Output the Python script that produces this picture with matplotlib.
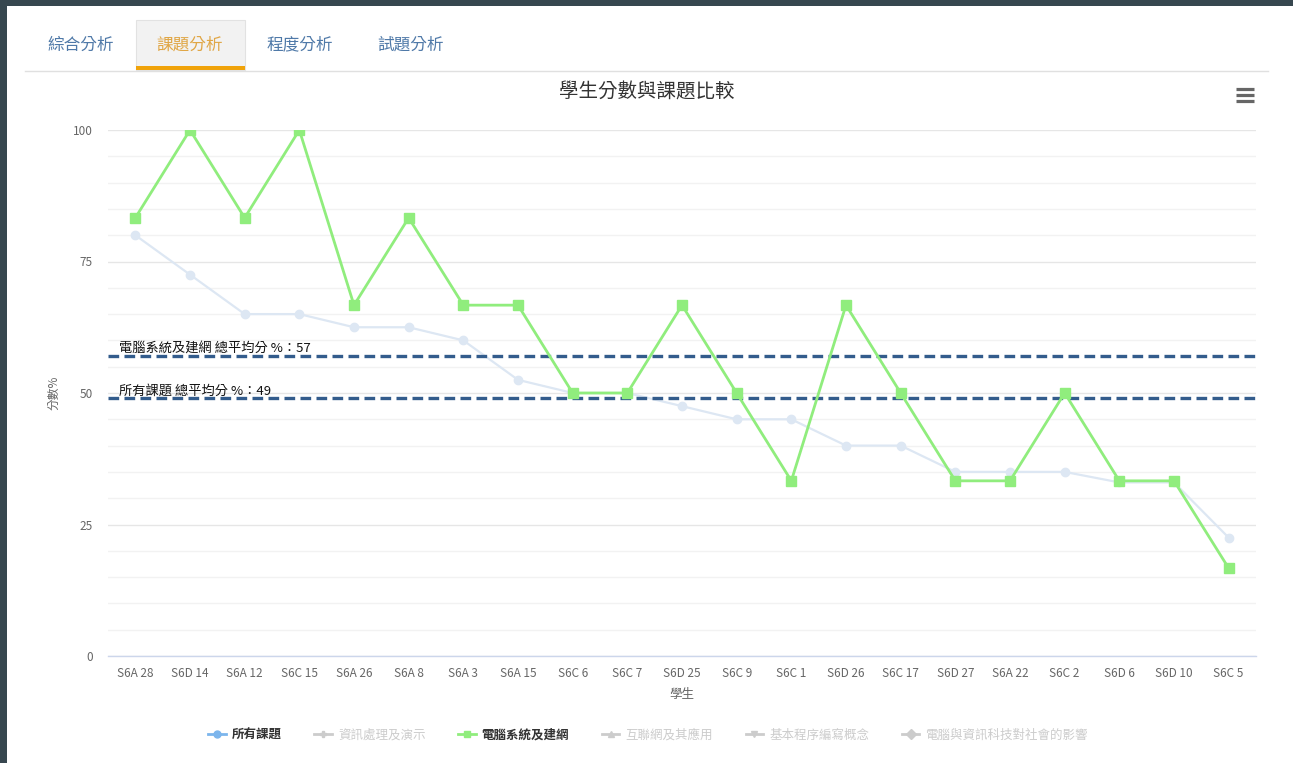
import matplotlib
matplotlib.use("Agg")
import matplotlib.pyplot as plt
from matplotlib.lines import Line2D
from matplotlib.patches import Rectangle

plt.rcParams['font.family'] = ['Noto Sans CJK TC', 'DejaVu Sans']

students = ["S6A 28", "S6D 14", "S6A 12", "S6C 15", "S6A 26", "S6A 8", "S6A 3",
            "S6A 15", "S6C 6", "S6C 7", "S6D 25", "S6C 9", "S6C 1", "S6D 26",
            "S6C 17", "S6D 27", "S6A 22", "S6C 2", "S6D 6", "S6D 10", "S6C 5"]
all_topics = [80, 72.5, 65, 65, 62.5, 62.5, 60, 52.5, 50, 50, 47.5, 45, 45, 40,
              40, 35, 35, 35, 33, 33, 22.5]
computer_net = [83.3, 100, 83.3, 100, 66.7, 83.3, 66.7, 66.7, 50, 50, 66.7, 50,
                33.3, 66.7, 50, 33.3, 33.3, 50, 33.3, 33.3, 16.7]
avg_computer = 57
avg_all = 49
tabs = ["綜合分析", "課題分析", "程度分析", "試題分析"]
legend_names = ["所有課題", "資訊處理及演示", "電腦系統及建網", "互聯網及其應用",
                "基本程序編寫概念", "電腦與資訊科技對社會的影響"]

W, H = 1293, 763
fig = plt.figure(figsize=(W / 100, H / 100), dpi=100)
fig.patch.set_facecolor("#37474f")

def fx(px):
    return px / W

def fy(py):
    return 1 - py / H

# white panel
fig.patches.append(Rectangle((fx(7), 0), 1 - fx(7), fy(6), transform=fig.transFigure,
                             facecolor="white", edgecolor="none", zorder=0))
# tab bar
fig.patches.append(Rectangle((fx(136), fy(70)), fx(109), fy(20) - fy(70),
                             transform=fig.transFigure, facecolor="#f2f2f2",
                             edgecolor="#e2e2e2", linewidth=0.8, zorder=1))
fig.patches.append(Rectangle((fx(136), fy(70)), fx(109), fy(66) - fy(70),
                             transform=fig.transFigure, facecolor="#f0a30a",
                             edgecolor="none", zorder=2))
fig.lines.append(Line2D([fx(25), fx(1268)], [fy(70.5), fy(70.5)], transform=fig.transFigure,
                        color="#e0e0e0", linewidth=1, zorder=1))
tab_x = [81, 190, 300, 410]
for t, x in zip(tabs, tab_x):
    col = "#e0a645" if t == "課題分析" else "#4f79a8"
    fig.text(fx(x), fy(45), t, ha="center", va="center", fontsize=12, color=col, zorder=3)

# hamburger menu
for yy in (89, 95, 101):
    fig.lines.append(Line2D([fx(1236), fx(1254)], [fy(yy), fy(yy)], transform=fig.transFigure,
                            color="#666666", linewidth=2.3, solid_capstyle="butt"))

# main axes
ax = fig.add_axes([fx(108), fy(656), fx(1256) - fx(108), fy(130) - fy(656)])
ax.set_zorder(10)
ax.set_facecolor("none")
x = list(range(len(students)))
ax.set_xlim(-0.5, len(students) - 0.5)
ax.set_ylim(0, 100)

ax.set_yticks([0, 25, 50, 75, 100])
ax.set_yticks([v for v in range(5, 100, 5) if v % 25 != 0], minor=True)
ax.grid(axis="y", which="major", color="#e6e6e6", linewidth=1)
ax.grid(axis="y", which="minor", color="#f2f2f2", linewidth=1)
ax.set_axisbelow(True)
for s in ("top", "right", "left"):
    ax.spines[s].set_visible(False)
ax.spines["bottom"].set_color("#ccd6eb")
ax.spines["bottom"].set_linewidth(1)
ax.tick_params(axis="y", which="both", length=0, labelsize=8.5, labelcolor="#666666", pad=11)
ax.tick_params(axis="x", length=0, labelsize=8.5, labelcolor="#666666", pad=8)
ax.set_xticks(x)
ax.set_xticklabels(students)

ax.plot(x, all_topics, color="#dde7f3", linewidth=1.6, marker="o", markersize=6,
        markerfacecolor="#dde7f3", markeredgecolor="#dde7f3", zorder=3)
ax.plot(x, computer_net, color="#90ed7d", linewidth=2, marker="s", markersize=6.5,
        markerfacecolor="#90ed7d", markeredgecolor="#90ed7d", zorder=5)

for val, lab in ((avg_computer, f"電腦系統及建網 總平均分 %：{avg_computer}"),
                 (avg_all, f"所有課題 總平均分 %：{avg_all}")):
    ax.axhline(val, color="#335c8c", linewidth=2.4, linestyle=(0, (3.2, 1.6)), zorder=4)
    ax.text(0.010, val + 0.2, lab, transform=ax.get_yaxis_transform(), fontsize=9.5,
            color="#111111", ha="left", va="bottom", zorder=6)

ax.set_xlabel("學生", fontsize=9, color="#666666", labelpad=6)
ax.set_ylabel("分數%", fontsize=8.5, color="#666666", labelpad=9)

fig.text(fx(647), fy(92), "學生分數與課題比較", ha="center", va="center",
         fontsize=14, color="#333333")

# legend
markers = ["o", "P", "s", "^", "v", "D"]
active = [True, False, True, False, False, False]
colors = ["#7cb5ec", "#cccccc", "#90ed7d", "#cccccc", "#cccccc", "#cccccc"]
handles = []
for m, c, a in zip(markers, colors, active):
    handles.append(Line2D([0], [0], color=c, linewidth=2, marker=m,
                          markersize=5, markerfacecolor=c, markeredgecolor=c))
leg = fig.legend(handles, legend_names, loc="center", bbox_to_anchor=(fx(648), fy(735)),
                 ncol=6, frameon=False, fontsize=9, handlelength=1.4, handletextpad=0.5,
                 columnspacing=2.6)
for txt, a in zip(leg.get_texts(), active):
    txt.set_color("#333333" if a else "#cccccc")
    if a:
        txt.set_fontweight("bold")

fig.savefig("out.png", dpi=100, facecolor=fig.get_facecolor())
